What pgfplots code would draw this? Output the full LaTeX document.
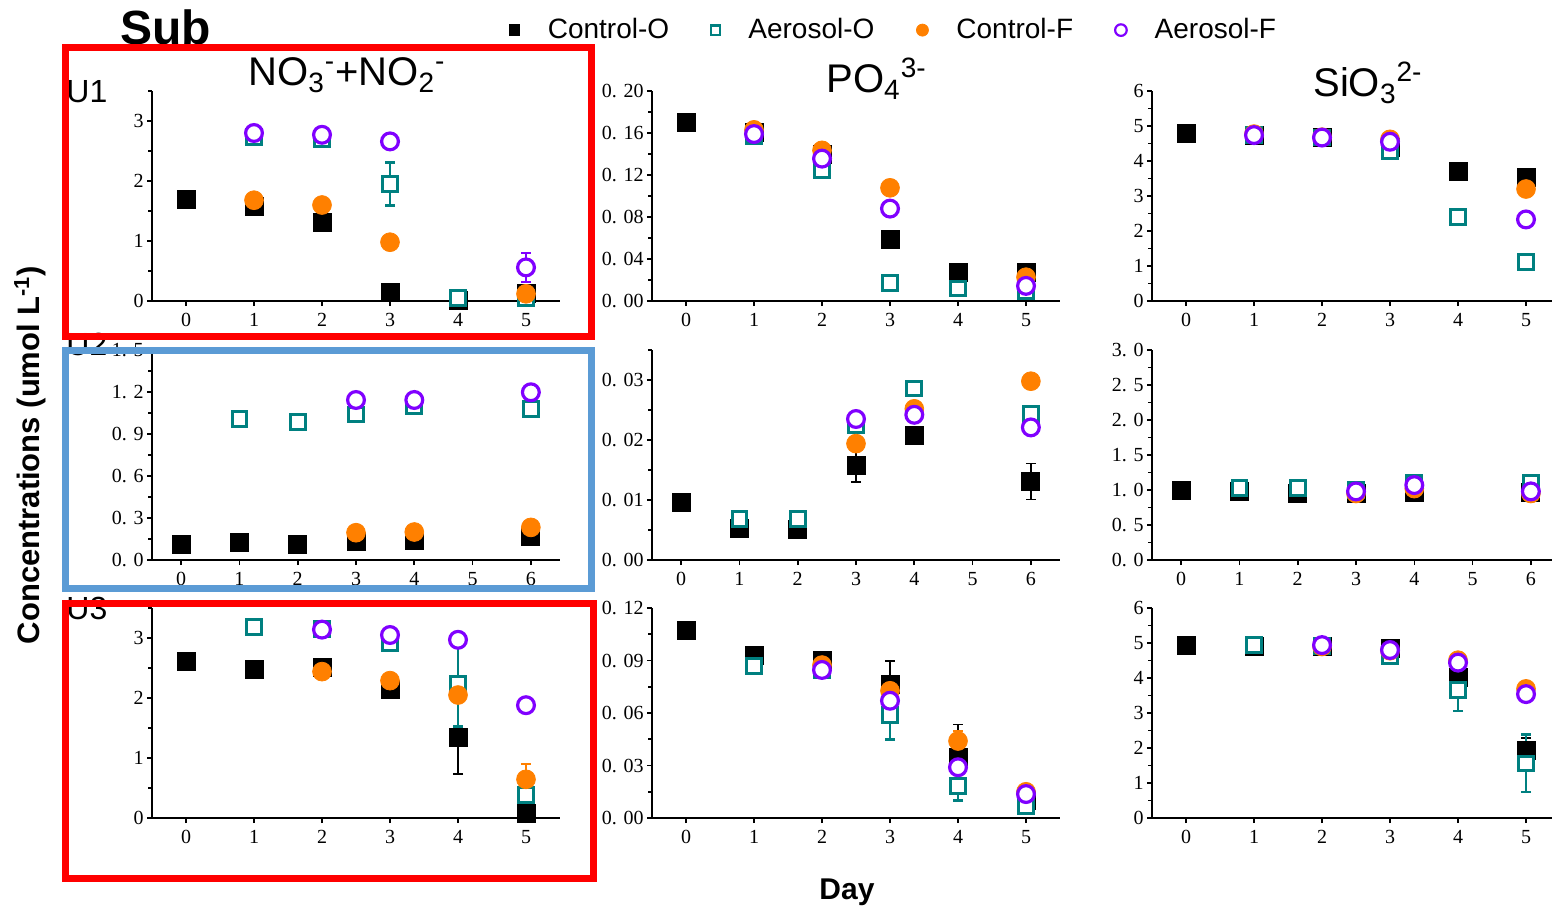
\documentclass[border=0pt]{standalone}
\usepackage{pgfplots}
\pgfplotsset{compat=1.18}
\usepackage{fontspec}
\setmainfont{Liberation Serif}
\newfontfamily\sans{Liberation Sans}
\definecolor{cteal}{RGB}{0,128,128}
\definecolor{corange}{RGB}{255,128,0}
\definecolor{cpurple}{RGB}{128,0,255}
\definecolor{cblue}{RGB}{91,155,213}
\pgfplotsset{
 panel/.style={scale only axis, width=204pt, height=105pt, anchor=south west,
   axis lines=left, axis line style={line width=1pt,-}, tick style={line width=0.8pt,black},
   tick align=outside, major tick length=2.5pt, minor tick length=1.8pt,
   xtick={0,1,2,3,4,5,6}, ymin=0, clip=false, xmin=-0.5, xmax=5.5,
   scaled y ticks=false, scaled x ticks=false,
   /pgf/number format/assume math mode=true,
   yticklabel style={inner xsep=1.5pt},
   tick label style={font=\fontsize{10}{12}\selectfont}},
 eb/.style={error bars/.cd, y dir=both, y explicit, error bar style={line width=#1},
   error mark options={rotate=90, mark size=2.5pt, line width=#1}},
 co/.style={only marks, mark=square*, mark size=4.5pt, color=black, eb=0.8pt},
 ao/.style={only marks, mark=square*, mark size=3.7pt, color=cteal, mark options={fill=white, line width=1.5pt}, eb=1.3pt},
 cf/.style={only marks, mark=*, mark size=4.7pt, color=corange, eb=1pt},
 af/.style={only marks, mark=*, mark size=4.2pt, color=cpurple, mark options={fill=white, line width=1.6pt}, eb=1pt},
}
\begin{document}
\begin{tikzpicture}
\useasboundingbox (0,0) rectangle (776pt,453.5pt);

% ---------- Row 1 ----------
\begin{axis}[panel, at={(76pt,303pt)}, ymax=3.5, ytick={0,1,2,3}, minor ytick={0.5,1.5,2.5,3.5},
  legend style={at={(1.82,1.29)}, anchor=center, draw=none, fill=none,
    font=\sans\fontsize{14}{16}\selectfont, legend columns=4,
    /tikz/every odd column/.append style={column sep=12pt},
    /tikz/every even column/.append style={column sep=19pt}}]
\addlegendimage{only marks, mark=square*, mark size=2.7pt, black}
\addlegendentry{Control-O}
\addlegendimage{only marks, mark=square*, mark size=2.3pt, color=cteal, mark options={fill=white, line width=1.1pt}}
\addlegendentry{Aerosol-O}
\addlegendimage{only marks, mark=*, mark size=3pt, color=corange}
\addlegendentry{Control-F}
\addlegendimage{only marks, mark=*, mark size=2.9pt, color=cpurple, mark options={fill=white, line width=1.1pt}}
\addlegendentry{Aerosol-F}
\addplot[co] table[x=x,y=y,y error=e]{
x y e
0 1.70 0
1 1.57 0
2 1.31 0
3 0.15 0
4 0.01 0.04
5 0.12 0
};
\addplot[ao] table[x=x,y=y,y error=e]{
x y e
1 2.74 0.05
2 2.70 0.05
3 1.95 0.36
4 0.05 0
5 0.05 0
};
\addplot[cf] table[x=x,y=y,y error=e]{
x y e
1 1.68 0
2 1.60 0
3 0.98 0
5 0.12 0
};
\addplot[af] table[x=x,y=y,y error=e]{
x y e
1 2.80 0
2 2.77 0
3 2.66 0.04
5 0.56 0.24
};
\end{axis}

\begin{axis}[panel, at={(326pt,303pt)}, ymax=0.2, ytick={0,0.04,0.08,0.12,0.16,0.2},
  yticklabels={0. 00,0. 04,0. 08,0. 12,0. 16,0. 20}, minor ytick={0.02,0.06,0.10,0.14,0.18}]
\addplot[co] table[x=x,y=y,y error=e]{
x y e
0 0.170 0
1 0.161 0
2 0.140 0
3 0.0584 0.003
4 0.0275 0
5 0.0275 0
};
\addplot[ao] table[x=x,y=y,y error=e]{
x y e
1 0.157 0
2 0.1247 0.004
3 0.0175 0
4 0.012 0
5 0.009 0
};
\addplot[cf] table[x=x,y=y,y error=e]{
x y e
1 0.163 0
2 0.1435 0
3 0.1078 0
5 0.0227 0
};
\addplot[af] table[x=x,y=y,y error=e]{
x y e
1 0.159 0
2 0.1356 0
3 0.088 0
5 0.0144 0
};
\end{axis}

\begin{axis}[panel, at={(576pt,303pt)}, ymax=6, ytick={0,1,2,3,4,5,6}, minor ytick={0.5,1.5,2.5,3.5,4.5,5.5}]
\addplot[co] table[x=x,y=y,y error=e]{
x y e
0 4.79 0
1 4.74 0
2 4.67 0
3 4.40 0
4 3.71 0
5 3.53 0
};
\addplot[ao] table[x=x,y=y,y error=e]{
x y e
1 4.74 0
2 4.67 0
3 4.27 0
4 2.41 0.2
5 1.12 0
};
\addplot[cf] table[x=x,y=y,y error=e]{
x y e
1 4.77 0
2 4.68 0
3 4.62 0
5 3.20 0
};
\addplot[af] table[x=x,y=y,y error=e]{
x y e
1 4.74 0
2 4.67 0
3 4.55 0
5 2.33 0
};
\end{axis}

% ---------- Row 2 ----------
\begin{axis}[panel, at={(76pt,173.5pt)}, xmax=6.5, ymax=1.5, ytick={0,0.3,0.6,0.9,1.2,1.5},
  yticklabels={0. 0,0. 3,0. 6,0. 9,1. 2,1. 5}, minor ytick={0.15,0.45,0.75,1.05,1.35}]
\addplot[co] table[x=x,y=y,y error=e]{
x y e
0 0.110 0
1 0.126 0
2 0.110 0
3 0.130 0
4 0.143 0
6 0.167 0
};
\addplot[ao] table[x=x,y=y,y error=e]{
x y e
1 1.005 0
2 0.988 0
3 1.040 0
4 1.100 0
6 1.076 0
};
\addplot[cf] table[x=x,y=y,y error=e]{
x y e
3 0.195 0
4 0.200 0
6 0.233 0
};
\addplot[af] table[x=x,y=y,y error=e]{
x y e
3 1.143 0
4 1.143 0
6 1.198 0
};
\end{axis}

\begin{axis}[panel, at={(326pt,173.5pt)}, xmax=6.5, ymax=0.035, ytick={0,0.01,0.02,0.03},
  yticklabels={0. 00,0. 01,0. 02,0. 03}, minor ytick={0.005,0.015,0.025,0.035}]
\addplot[co] table[x=x,y=y,y error=e]{
x y e
0 0.0096 0
1 0.0053 0
2 0.0051 0
3 0.0158 0.0028
4 0.0207 0
6 0.0131 0.003
};
\addplot[ao] table[x=x,y=y,y error=e]{
x y e
1 0.0068 0
2 0.0068 0
3 0.0225 0
4 0.0286 0
6 0.0244 0
};
\addplot[cf] table[x=x,y=y,y error=e]{
x y e
3 0.0194 0
4 0.0252 0
6 0.0298 0
};
\addplot[af] table[x=x,y=y,y error=e]{
x y e
3 0.0235 0
4 0.0242 0
6 0.0221 0
};
\end{axis}

\begin{axis}[panel, at={(576pt,173.5pt)}, xmax=6.5, ymax=3, ytick={0,0.5,1,1.5,2,2.5,3},
  yticklabels={0. 0,0. 5,1. 0,1. 5,2. 0,2. 5,3. 0}, minor ytick={0.25,0.75,1.25,1.75,2.25,2.75}]
\addplot[co] table[x=x,y=y,y error=e]{
x y e
0 0.99 0
1 0.98 0
2 0.95 0
3 0.95 0
4 0.96 0
6 0.96 0
};
\addplot[ao] table[x=x,y=y,y error=e]{
x y e
1 1.03 0
2 1.03 0
3 1.00 0
4 1.10 0
6 1.10 0
};
\addplot[cf] table[x=x,y=y,y error=e]{
x y e
3 0.95 0
4 1.02 0
6 0.95 0
};
\addplot[af] table[x=x,y=y,y error=e]{
x y e
3 0.98 0
4 1.07 0
6 0.98 0
};
\end{axis}

% ---------- Row 3 ----------
\begin{axis}[panel, at={(76pt,44.5pt)}, ymax=3.5, ytick={0,1,2,3}, minor ytick={0.5,1.5,2.5,3.5}]
\addplot[co] table[x=x,y=y,y error=e]{
x y e
0 2.61 0
1 2.48 0
2 2.51 0
3 2.15 0
4 1.34 0.61
5 0.07 0
};
\addplot[ao] table[x=x,y=y,y error=e]{
x y e
1 3.18 0
2 3.15 0
3 2.92 0
4 2.23 0.70
5 0.38 0.36
};
\addplot[cf] table[x=x,y=y,y error=e]{
x y e
2 2.44 0
3 2.29 0
4 2.05 0
5 0.645 0.25
};
\addplot[af] table[x=x,y=y,y error=e]{
x y e
2 3.14 0
3 3.05 0
4 2.97 0
5 1.88 0.10
};
\end{axis}

\begin{axis}[panel, at={(326pt,44.5pt)}, ymax=0.12, ytick={0,0.03,0.06,0.09,0.12},
  yticklabels={0. 00,0. 03,0. 06,0. 09,0. 12}, minor ytick={0.015,0.045,0.075,0.105}]
\addplot[co] table[x=x,y=y,y error=e]{
x y e
0 0.1074 0
1 0.0927 0
2 0.0899 0
3 0.0766 0.013
4 0.0345 0.019
5 0.0100 0
};
\addplot[ao] table[x=x,y=y,y error=e]{
x y e
1 0.0869 0
2 0.0846 0
3 0.0589 0.014
4 0.0185 0.0086
5 0.0069 0
};
\addplot[cf] table[x=x,y=y,y error=e]{
x y e
2 0.0874 0
3 0.0727 0
4 0.0440 0.006
5 0.0150 0
};
\addplot[af] table[x=x,y=y,y error=e]{
x y e
2 0.0846 0
3 0.0670 0
4 0.0290 0
5 0.0137 0
};
\end{axis}

\begin{axis}[panel, at={(576pt,44.5pt)}, ymax=6, ytick={0,1,2,3,4,5,6}, minor ytick={0.5,1.5,2.5,3.5,4.5,5.5}]
\addplot[co] table[x=x,y=y,y error=e]{
x y e
0 4.92 0
1 4.90 0
2 4.90 0
3 4.85 0
4 4.02 0.5
5 1.92 0.36
};
\addplot[ao] table[x=x,y=y,y error=e]{
x y e
1 4.94 0
2 4.92 0
3 4.63 0
4 3.66 0.6
5 1.56 0.82
};
\addplot[cf] table[x=x,y=y,y error=e]{
x y e
2 4.90 0
3 4.78 0
4 4.51 0
5 3.69 0
};
\addplot[af] table[x=x,y=y,y error=e]{
x y e
2 4.94 0
3 4.80 0
4 4.44 0
5 3.54 0
};
\end{axis}

% ---------- Text ----------
\node[anchor=base west, font=\sans\fontsize{20}{23}\selectfont, inner sep=0pt] at (124pt,410.5pt)
  {NO\textsubscript{3}\textsuperscript{-}+NO\textsubscript{2}\textsuperscript{-}};
\node[anchor=base west, font=\sans\fontsize{20}{23}\selectfont, inner sep=0pt] at (413pt,407pt)
  {PO\textsubscript{4}\textsuperscript{3-}};
\node[anchor=base west, font=\sans\fontsize{20}{23}\selectfont, inner sep=0pt] at (656.5pt,405pt)
  {SiO\textsubscript{3}\textsuperscript{2-}};
\node[anchor=base west, font=\sans\fontsize{16}{19}\selectfont, inner sep=0pt] at (33pt,402pt) {U1};
\node[anchor=base west, font=\sans\fontsize{16}{19}\selectfont, inner sep=0pt] at (33pt,276pt) {U2};
\node[anchor=base west, font=\sans\fontsize{16}{19}\selectfont, inner sep=0pt] at (33pt,144pt) {U3};
\node[anchor=base west, font=\sans\bfseries\fontsize{24}{28}\selectfont, inner sep=0pt] at (60pt,431pt) {Sub};
\node[anchor=base, font=\sans\bfseries\fontsize{15}{18}\selectfont, inner sep=0pt] at (423.5pt,4pt) {Day};
\node[rotate=90, anchor=center, font=\sans\bfseries\fontsize{15.5}{18}\selectfont, inner sep=0pt] at (15pt,226pt)
  {Concentrations (umol L\textsuperscript{-1})};

% ---------- Boxes ----------
\draw[red, line width=3.5pt] (32.75pt,429.75pt) rectangle (295.75pt,285.25pt);
\draw[cblue, line width=3.5pt] (32.75pt,278.25pt) rectangle (295.75pt,159.25pt);
\draw[red, line width=3.5pt] (32.75pt,151.75pt) rectangle (296.75pt,14.25pt);
\end{tikzpicture}
\end{document}
